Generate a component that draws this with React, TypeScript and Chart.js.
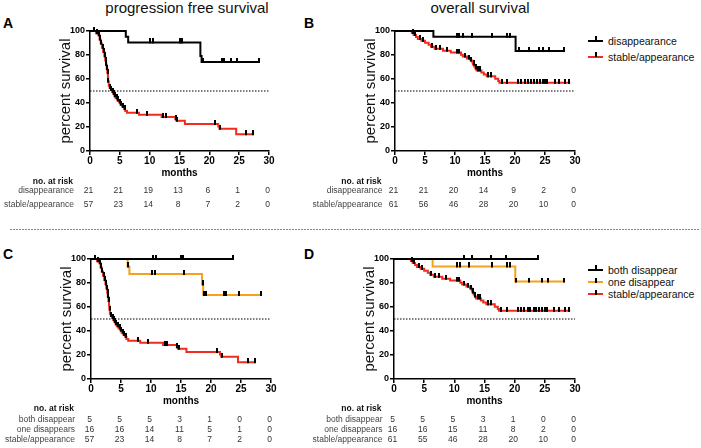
import React, { useEffect, useRef } from 'react';
import { Chart, registerables } from 'chart.js';
Chart.register(...registerables);

const FONT = '"Liberation Sans", Arial, Helvetica, sans-serif';
const RED = '#ee2d1e';
const ORANGE = '#f5a11c';
const BLACK = '#000000';

// ---- tick values ----
const xTickValues = [0, 5, 10, 15, 20, 25, 30];

// ---- PFS: disappearance ----
const pfsDisT = [0, 6.0, 6.4, 18.5, 18.7, 28.3];
const pfsDisS = [100, 95.2, 90.5, 79.2, 74.2, 74.2];
const pfsDisCens = [0.7, 10.0, 10.6, 15.0, 15.4, 18.9, 22.2, 22.5, 23.6, 24.7, 28.3];

// ---- PFS: stable/appearance ----
const pfsStT = [0, 1.0, 1.4, 1.6, 1.8, 2.0, 2.2, 2.4, 2.55, 2.7, 2.8, 2.9, 3.0, 3.05, 3.15, 3.3, 3.5, 3.7, 3.9, 4.1, 4.3, 4.6, 4.9, 5.1, 5.4, 5.7, 5.9, 6.2, 8.2, 12.0, 14.3, 14.5, 15.9, 21.5, 21.7, 24.5, 27.3];
const pfsStS = [100, 98.2, 96.5, 93.0, 89.5, 86.0, 82.5, 79.0, 75.4, 71.9, 68.4, 64.9, 61.4, 57.9, 54.4, 52.6, 50.9, 49.1, 47.4, 45.6, 43.9, 42.1, 40.4, 38.6, 36.8, 35.1, 33.3, 31.9, 30.2, 28.3, 26.5, 25.3, 22.4, 20.4, 18.6, 14.0, 14.0];
const pfsStCens = [0.7, 1.2, 1.5, 1.7, 1.9, 2.1, 2.3, 2.5, 2.65, 2.75, 2.85, 2.95, 3.1, 3.4, 3.6, 3.8, 4.0, 4.2, 4.45, 4.75, 5.0, 5.25, 5.55, 5.8, 7.9, 9.5, 12.3, 12.7, 14.4, 14.6, 21.0, 21.8, 26.1, 27.3];

// ---- OS: disappearance ----
const osDisT = [0, 6.4, 20.1, 28.2];
const osDisS = [100, 95.2, 83.3, 83.3];
const osDisCens = [10.3, 10.7, 11.4, 12.8, 16.1, 18.7, 19.2, 20.6, 22.3, 24.0, 24.6, 25.7, 28.2];

// ---- OS: stable/appearance ----
const osStT = [0, 2.8, 3.1, 3.5, 3.8, 4.4, 5.0, 5.6, 6.0, 6.6, 8.0, 9.3, 11.0, 11.3, 12.0, 12.6, 12.9, 13.0, 13.2, 13.4, 13.6, 14.4, 14.8, 15.3, 16.7, 17.2, 17.4, 29.2];
const osStS = [100, 98.4, 96.7, 95.1, 93.4, 91.8, 90.2, 88.5, 86.9, 85.2, 83.6, 82.0, 80.3, 78.7, 77.0, 75.4, 73.7, 72.1, 70.4, 68.8, 67.1, 65.5, 63.8, 62.2, 60.2, 58.3, 56.8, 56.8];
const osStCens = [3.0, 3.3, 4.1, 4.7, 6.2, 6.8, 7.5, 8.6, 10.4, 10.7, 11.6, 12.3, 12.7, 13.1, 13.5, 13.9, 14.2, 15.5, 16.0, 17.8, 18.7, 20.5, 21.0, 21.6, 22.2, 22.6, 23.2, 23.6, 24.1, 24.6, 25.0, 25.4, 26.6, 27.3, 28.3, 29.0];

// ---- PFS split: both / one disappear ----
const pfsBothT = [0, 23.6];
const pfsBothS = [100, 100];
const pfsBothCens = [0.7, 10.3, 10.8, 15.0, 15.3, 23.6];
const pfsOneT = [0, 6.1, 6.4, 18.5, 18.7, 28.3];
const pfsOneS = [100, 93.8, 87.5, 78.8, 70.0, 70.0];
const pfsOneCens = [6.2, 10.2, 10.7, 15.5, 18.6, 18.9, 19.1, 22.1, 22.5, 24.7, 28.3];

// ---- OS split: both / one disappear ----
const osBothT = [0, 23.9];
const osBothS = [100, 100];
const osBothCens = [11.6, 13.0, 16.0, 18.6, 23.9];
const osOneT = [0, 6.4, 20.1, 28.2];
const osOneS = [100, 93.8, 81.2, 81.2];
const osOneCens = [10.4, 11.0, 12.5, 16.2, 18.8, 19.2, 20.3, 22.3, 24.5, 25.6, 28.2];

// ---- numbers at risk ----
const riskA_dis = [21, 21, 19, 13, 6, 1, 0];
const riskA_st = [57, 23, 14, 8, 7, 2, 0];
const riskB_dis = [21, 21, 20, 14, 9, 2, 0];
const riskB_st = [61, 56, 46, 28, 20, 10, 0];
const riskC_both = [5, 5, 5, 3, 1, 0, 0];
const riskC_one = [16, 16, 14, 11, 5, 1, 0];
const riskC_st = [57, 23, 14, 8, 7, 2, 0];
const riskD_both = [5, 5, 5, 3, 1, 0, 0];
const riskD_one = [16, 16, 15, 11, 8, 2, 0];
const riskD_st = [61, 55, 46, 28, 20, 10, 0];

type Curve = { t: number[]; s: number[]; cens: number[]; color: string };

function survAt(t: number[], s: number[], x: number): number {
  let v = s[0];
  for (let i = 0; i < t.length; i++) {
    if (t[i] <= x) v = s[i];
  }
  return v;
}

const Y_W = 40;
const PAD_TOP = 9;
const PAD_RIGHT = 10;
const X_H = 28;
const PLOT_H = 120;

function KMPanel({ caLeft, caTop, caRight, curves }: { caLeft: number; caTop: number; caRight: number; curves: Curve[] }) {
  const ref = useRef<HTMLCanvasElement>(null);
  const width = Y_W + (caRight - caLeft) + PAD_RIGHT;
  const height = PAD_TOP + PLOT_H + X_H;
  useEffect(() => {
    if (!ref.current) return;
    const tick = document.createElement('canvas');
    tick.width = 2;
    tick.height = 8;
    const tc = tick.getContext('2d');
    if (tc) {
      tc.fillStyle = '#000';
      tc.fillRect(0, 0, 2, 5);
    }
    const datasets: any[] = [];
    curves.forEach((c) => {
      datasets.push({
        data: c.cens.map((x) => ({ x, y: survAt(c.t, c.s, x) })),
        showLine: false,
        pointStyle: tick,
        pointRadius: 3,
        clip: false,
      });
    });
    curves.forEach((c) => {
      datasets.push({
        data: c.t.map((x, i) => ({ x, y: c.s[i] })),
        stepped: 'before',
        borderColor: c.color,
        borderWidth: 2,
        pointRadius: 0,
        fill: false,
        clip: false,
      });
    });
    datasets.push({
      data: [{ x: 0, y: 50 }, { x: 30, y: 50 }],
      borderColor: '#000',
      borderWidth: 1,
      borderDash: [1.5, 1.5],
      pointRadius: 0,
      fill: false,
    });
    const chart = new Chart(ref.current, {
      type: 'line',
      data: { datasets },
      options: {
        animation: false,
        responsive: false,
        devicePixelRatio: 1,
        events: [],
        layout: { padding: { top: PAD_TOP, right: PAD_RIGHT, left: 0, bottom: 0 } },
        plugins: { legend: { display: false }, tooltip: { enabled: false } },
        scales: {
          x: {
            type: 'linear',
            min: 0,
            max: 30,
            afterFit: (s: any) => { s.height = X_H; },
            afterBuildTicks: (s: any) => { s.ticks = xTickValues.map((v) => ({ value: v })); },
            border: { display: true, color: '#000', width: 1.5 },
            grid: { display: true, drawOnChartArea: false, drawTicks: true, tickLength: 4, color: '#000', lineWidth: 1.5 },
            ticks: { padding: 0, color: '#000', maxRotation: 0, font: { family: FONT, size: 10, weight: 'bold' } },
            title: { display: true, text: 'months', color: '#000', font: { family: FONT, size: 10, weight: 'bold', lineHeight: 1.2 }, padding: { top: 0, bottom: 0 } },
          },
          y: {
            min: 0,
            max: 100,
            afterFit: (s: any) => { s.width = Y_W; },
            border: { display: true, color: '#000', width: 1.5 },
            grid: { display: true, drawOnChartArea: false, drawTicks: true, tickLength: 4, color: '#000', lineWidth: 1.5 },
            ticks: { stepSize: 20, padding: 1, color: '#000', font: { family: FONT, size: 9, weight: 'bold' } },
            title: { display: true, text: 'percent survival', color: '#111', font: { family: FONT, size: 15, lineHeight: 1.2 }, padding: { top: 7, bottom: 0 } },
          },
        },
      } as any,
    });
    return () => chart.destroy();
  }, []);
  return (
    <canvas
      ref={ref}
      width={width}
      height={height}
      style={{ position: 'absolute', left: caLeft - Y_W, top: caTop - PAD_TOP, width, height }}
    />
  );
}

function Txt({ x, y, children, align = 'left', size = 9, bold = false, color = '#000' }: any) {
  const tx = align === 'center' ? '-50%' : align === 'right' ? '-100%' : '0';
  return (
    <div
      style={{
        position: 'absolute',
        left: x,
        top: y,
        transform: `translate(${tx}, -50%)`,
        fontSize: size,
        lineHeight: `${size}px`,
        fontWeight: bold ? 'bold' : 'normal',
        color,
        whiteSpace: 'nowrap',
        fontFamily: FONT,
      }}
    >
      {children}
    </div>
  );
}

function LegendItem({ x, y, color, label }: { x: number; y: number; color: string; label: string }) {
  return (
    <>
      <div style={{ position: 'absolute', left: x, top: y - 1, width: 15, height: 2, background: color }} />
      <div style={{ position: 'absolute', left: x + 7, top: y - 4.5, width: 1.5, height: 5, background: '#000' }} />
      <Txt x={x + 20} y={y} size={10.5} color="#111">{label}</Txt>
    </>
  );
}

function RiskTable({ caLeft, caRight, labelRight, headY, rows }: { caLeft: number; caRight: number; labelRight: number; headY: number; rows: { label: string; y: number; values: number[] }[] }) {
  return (
    <>
      <Txt x={labelRight - 1} y={headY} align="right" size={8.5} bold color="#111">no. at risk</Txt>
      {rows.map((r, ri) => (
        <React.Fragment key={ri}>
          <Txt x={labelRight} y={r.y} align="right" size={8.5} color="#444">{r.label}</Txt>
          {r.values.map((v, i) => (
            <Txt key={i} x={caLeft + ((caRight - caLeft) * xTickValues[i]) / 30 - 1.5} y={r.y} align="center" size={8.5} color="#333">{v}</Txt>
          ))}
        </React.Fragment>
      ))}
    </>
  );
}

export default function App() {
  const A = { l: 90, r: 269, t: 31 };
  const B = { l: 395, r: 575, t: 31 };
  const C = { l: 91, r: 271, t: 259 };
  const D = { l: 394, r: 575, t: 259 };
  return (
    <div style={{ position: 'absolute', left: 0, top: 0, width: 701, height: 448, background: '#fff', overflow: 'hidden', fontFamily: FONT }}>
      <Txt x={187} y={7} align="center" size={15} color="#111">progression free survival</Txt>
      <Txt x={480} y={7} align="center" size={15} color="#111">overall survival</Txt>
      <Txt x={3} y={22.5} size={14} bold>A</Txt>
      <Txt x={304} y={22.5} size={14} bold>B</Txt>
      <Txt x={3} y={254} size={14} bold>C</Txt>
      <Txt x={304} y={254} size={14} bold>D</Txt>

      <KMPanel caLeft={A.l} caRight={A.r} caTop={A.t} curves={[
        { t: pfsDisT, s: pfsDisS, cens: pfsDisCens, color: BLACK },
        { t: pfsStT, s: pfsStS, cens: pfsStCens, color: RED },
      ]} />
      <KMPanel caLeft={B.l} caRight={B.r} caTop={B.t} curves={[
        { t: osDisT, s: osDisS, cens: osDisCens, color: BLACK },
        { t: osStT, s: osStS, cens: osStCens, color: RED },
      ]} />
      <KMPanel caLeft={C.l} caRight={C.r} caTop={C.t} curves={[
        { t: pfsBothT, s: pfsBothS, cens: pfsBothCens, color: BLACK },
        { t: pfsOneT, s: pfsOneS, cens: pfsOneCens, color: ORANGE },
        { t: pfsStT, s: pfsStS, cens: pfsStCens, color: RED },
      ]} />
      <KMPanel caLeft={D.l} caRight={D.r} caTop={D.t} curves={[
        { t: osBothT, s: osBothS, cens: osBothCens, color: BLACK },
        { t: osOneT, s: osOneS, cens: osOneCens, color: ORANGE },
        { t: osStT, s: osStS, cens: osStCens, color: RED },
      ]} />

      <LegendItem x={588} y={40.7} color={BLACK} label="disappearance" />
      <LegendItem x={588} y={56.7} color={RED} label="stable/appearance" />
      <LegendItem x={588} y={269.5} color={BLACK} label="both disappear" />
      <LegendItem x={588} y={282} color={ORANGE} label="one disappear" />
      <LegendItem x={588} y={294.3} color={RED} label="stable/appearance" />

      <RiskTable caLeft={A.l} caRight={A.r} labelRight={74} headY={181} rows={[
        { label: 'disappearance', y: 190, values: riskA_dis },
        { label: 'stable/appearance', y: 204, values: riskA_st },
      ]} />
      <RiskTable caLeft={B.l} caRight={B.r} labelRight={382.5} headY={181} rows={[
        { label: 'disappearance', y: 190, values: riskB_dis },
        { label: 'stable/appearance', y: 204, values: riskB_st },
      ]} />
      <RiskTable caLeft={C.l} caRight={C.r} labelRight={75} headY={408} rows={[
        { label: 'both disappear', y: 419, values: riskC_both },
        { label: 'one disappears', y: 429.3, values: riskC_one },
        { label: 'stable/appearance', y: 439.3, values: riskC_st },
      ]} />
      <RiskTable caLeft={D.l} caRight={D.r} labelRight={382.5} headY={408} rows={[
        { label: 'both disappear', y: 419, values: riskD_both },
        { label: 'one disappears', y: 429.3, values: riskD_one },
        { label: 'stable/appearance', y: 439.3, values: riskD_st },
      ]} />

      <div style={{ position: 'absolute', left: 10, top: 229, width: 690, height: 1, backgroundImage: 'repeating-linear-gradient(to right, #888 0px, #888 2px, transparent 2px, transparent 3px)' }} />
    </div>
  );
}
